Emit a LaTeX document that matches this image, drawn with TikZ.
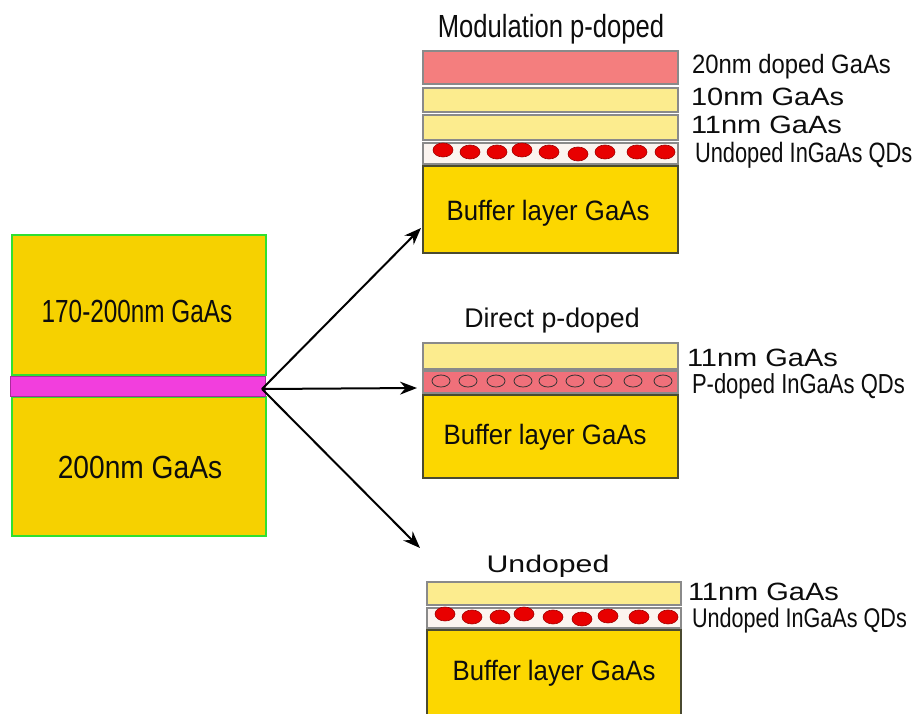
\documentclass[tikz,border=0pt]{standalone}
\usepackage{fontspec}
\usepackage{graphicx}
\setmainfont{Liberation Sans}
\usetikzlibrary{arrows.meta}
\definecolor{gold}{HTML}{F6D100}
\definecolor{buf}{HTML}{FCD700}
\definecolor{lyel}{HTML}{FCEC8E}
\definecolor{salmon}{HTML}{F47E7E}
\definecolor{pinkqd}{HTML}{F0707A}
\definecolor{qdbg}{HTML}{FBF4EF}
\definecolor{qdred}{HTML}{E80000}
\definecolor{qdedge}{HTML}{A00000}
\definecolor{magband}{HTML}{F23EDD}
\definecolor{grn}{HTML}{30E030}
\definecolor{laygray}{HTML}{8A8A8A}
\definecolor{bufedge}{HTML}{4A4A30}
\newcommand{\lbl}[3]{\scalebox{#2}[1]{\fontsize{#1}{#1}\selectfont #3}}
\begin{document}
\begin{tikzpicture}[x=1pt,y=-1pt,
  layer/.style={draw=laygray, line width=1.2pt},
  buffer/.style={draw=bufedge, line width=1.4pt, fill=buf},
  leftblk/.style={draw=grn, line width=1.6pt, fill=gold},
  qdfull/.style={fill=qdred, draw=qdedge, line width=0.6pt},
  qdopen/.style={draw=black!80, line width=0.8pt},
  txt/.style={inner sep=0pt, outer sep=0pt, text=black!95},
  arr/.style={line width=2pt, -{Stealth[length=17pt, width=13pt]}}
]
\fill[white] (0,0) rectangle (917,713);
\useasboundingbox (0,0) rectangle (917,713);

% left stack
\path[leftblk] (12,235) rectangle (266,375);
\path[leftblk] (12,397) rectangle (266,536);
\path[fill=magband, draw=magband!70!black, line width=0.6pt] (10,376) rectangle (265,396);
\node[txt, anchor=base] (t170) at (137,322) {\lbl{32}{0.76}{170-200nm GaAs}};
\node[txt, anchor=base] (t200) at (140,478) {\lbl{32}{0.88}{200nm GaAs}};

% top panel: modulation p-doped
\node[txt, anchor=base] (titA) at (551,37) {\lbl{32}{0.8}{Modulation p-doped}};
\path[layer, fill=salmon] (423,51) rectangle (678,84);
\path[layer, fill=lyel] (423,88) rectangle (678,112);
\path[layer, fill=lyel] (423,115) rectangle (678,140);
\path[layer, fill=qdbg] (423,143) rectangle (678,164);
\path[buffer] (423,166) rectangle (678,253);
\foreach \x/\y in {443/150,470/152,497/152,522/150,549/152,578/154,605/152,637/152,665/152}
  \path[qdfull] (\x,\y) ellipse [x radius=10pt, y radius=7pt];
\node[txt, anchor=base] (bufA) at (548,220) {\lbl{28}{0.92}{Buffer layer GaAs}};
\node[txt, anchor=base west] (lA1) at (692,73) {\lbl{26.5}{0.9}{20nm doped GaAs}};
\node[txt, anchor=base west] (lA2) at (691,105) {\lbl{25}{1.16}{10nm GaAs}};
\node[txt, anchor=base west] (lA3) at (691,133) {\lbl{25}{1.16}{11nm GaAs}};
\node[txt, anchor=base west] (lA4) at (695,162) {\lbl{28}{0.78}{Undoped InGaAs QDs}};

% middle panel: direct p-doped
\node[txt, anchor=base] (titB) at (552,327) {\lbl{27}{0.99}{Direct p-doped}};
\path[layer, fill=lyel] (423,343) rectangle (678,369);
\path[layer, fill=pinkqd] (423,371) rectangle (678,393);
\path[buffer] (423,395) rectangle (678,478);
\foreach \x in {441,468,496,523,548,575,603,633,663}
  \path[qdopen] (\x,381) ellipse [x radius=9pt, y radius=6pt];
\node[txt, anchor=base] (bufB) at (545,444) {\lbl{28}{0.92}{Buffer layer GaAs}};
\node[txt, anchor=base west] (lB1) at (687,366) {\lbl{25}{1.16}{11nm GaAs}};
\node[txt, anchor=base west] (lB2) at (692,393) {\lbl{27.5}{0.8}{P-doped InGaAs QDs}};

% bottom panel: undoped
\node[txt, anchor=base] (titC) at (548,572) {\lbl{24}{1.26}{Undoped}};
\path[layer, fill=lyel] (427,582) rectangle (681,605);
\path[layer, fill=qdbg] (427,608) rectangle (681,628);
\path[buffer] (427,630) rectangle (681,716);
\foreach \x/\y in {445/614,472/617,500/617,524/614,553/617,582/619,608/616,639/617,668/617}
  \path[qdfull] (\x,\y) ellipse [x radius=10pt, y radius=7pt];
\node[txt, anchor=base] (bufC) at (554,680) {\lbl{28}{0.92}{Buffer layer GaAs}};
\node[txt, anchor=base west] (lC1) at (688,600) {\lbl{25}{1.16}{11nm GaAs}};
\node[txt, anchor=base west] (lC2) at (692,627) {\lbl{27}{0.8}{Undoped InGaAs QDs}};

% arrows
\coordinate (src) at (262,389);
\coordinate (tipA) at (421,228);
\coordinate (tipB) at (417,388);
\coordinate (tipC) at (420,548);
\draw[arr] (src) -- (tipA);
\draw[arr] (src) -- (tipB);
\draw[arr] (src) -- (tipC);
\end{tikzpicture}
\end{document}
